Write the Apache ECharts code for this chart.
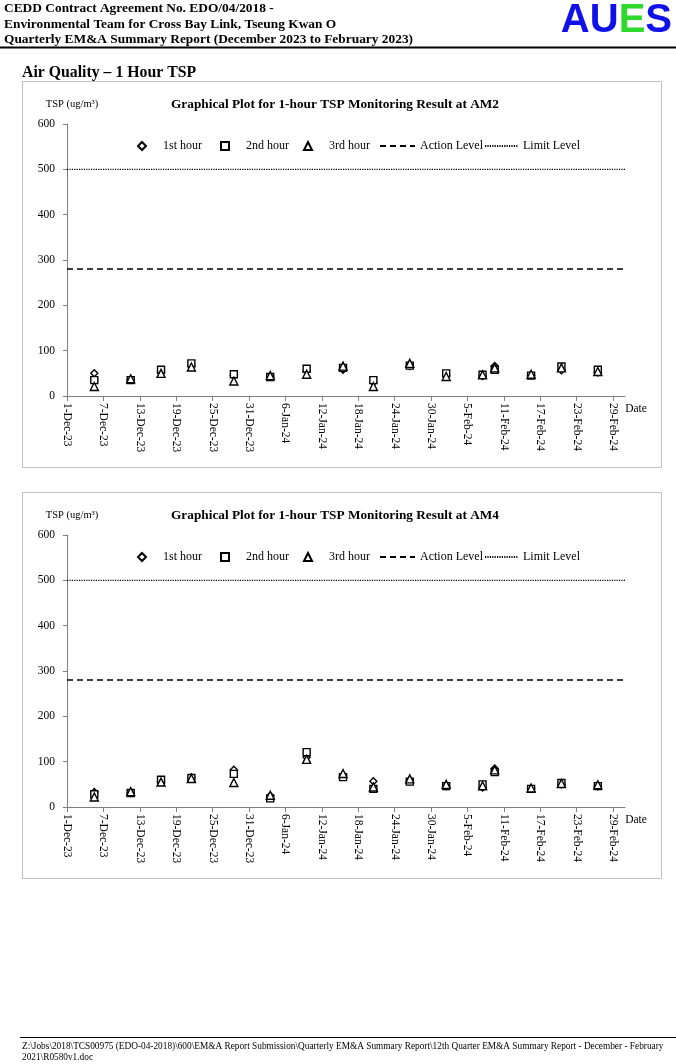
<!DOCTYPE html>
<html><head><meta charset="utf-8">
<script src="https://cdn.jsdelivr.net/npm/echarts@6/dist/echarts.min.js"></script>
<style>html,body{margin:0;padding:0;background:#fff}#c{width:676px;height:1064px}</style>
</head><body><div id="c"></div><script>
// ---------- data ----------
const sampleDates = ['2023-12-05','2023-12-11','2023-12-16','2023-12-21','2023-12-28','2024-01-03','2024-01-09','2024-01-15','2024-01-20','2024-01-26','2024-02-01','2024-02-07','2024-02-09','2024-02-15','2024-02-20','2024-02-26'];
const xTickLabels = ['1-Dec-23','7-Dec-23','13-Dec-23','19-Dec-23','25-Dec-23','31-Dec-23','6-Jan-24','12-Jan-24','18-Jan-24','24-Jan-24','30-Jan-24','5-Feb-24','11-Feb-24','17-Feb-24','23-Feb-24','29-Feb-24'];
const am2Hour1 = [50, 36, 53, 66, 46, 42, 55, 58, 30, 66, 46, 44, 66, 45, 57, 52];
const am2Hour2 = [35, 35, 58, 72, 48, 42, 60, 62, 35, 67, 50, 47, 58, 45, 65, 58];
const am2Hour3 = [21, 38, 50, 64, 33, 45, 48, 66, 21, 72, 43, 47, 62, 48, 62, 54];
const am4Hour1 = [33, 31, 57, 65, 82, 25, 110, 70, 57, 56, 46, 43, 85, 40, 50, 45];
const am4Hour2 = [28, 31, 60, 64, 73, 19, 121, 66, 40, 56, 46, 50, 77, 40, 53, 46];
const am4Hour3 = [22, 34, 55, 63, 54, 26, 105, 74, 44, 62, 50, 47, 82, 42, 52, 49];
const actionLevel = 280;
const limitLevel = 500;
const levelSpan = ['2023-12-01', '2024-03-02'];
const stations = ['AM2', 'AM4'];
const hourNames = ['1st hour', '2nd hour', '3rd hour'];
const levelNames = ['Action Level', 'Limit Level'];

// ---------- helpers ----------
const DAY = 86400000, ORIGIN = Date.UTC(2023, 11, 1);
function dayOf(s) { const [y, m, d] = s.split('-').map(Number); return (Date.UTC(y, m - 1, d) - ORIGIN) / DAY; }
const SERIF = 'Liberation Serif, Times New Roman, serif';
const AXIS_COLOR = '#7f7f7f';
const tickValues = xTickLabels.map((_, k) => k * 6);
const axisEnd = dayOf(levelSpan[1]);

const hourData = [[am2Hour1, am2Hour2, am2Hour3], [am4Hour1, am4Hour2, am4Hour3]];
const symbols = ['diamond', 'rect', 'triangle'];
const symbolSizes = [7, 7, 8];

const option = { animation: false, backgroundColor: '#fff', title: [], legend: [], grid: [], xAxis: [], yAxis: [], series: [], graphic: [] };

const OFFSET = 411;
const PX_PER_DAY = 546 / 90;
stations.forEach((st, i) => {
  const dy = i * OFFSET;
  option.grid.push({ left: 67, top: 124 + dy, width: PX_PER_DAY * axisEnd, height: 272, containLabel: false, outerBoundsMode: 'none' });
  option.title.push({
    text: 'Graphical Plot for 1-hour TSP Monitoring Result at ' + st,
    left: 171, top: 97 + dy, padding: 0,
    textStyle: { fontFamily: SERIF, fontSize: 13.3, fontWeight: 'bold', color: '#000', lineHeight: 16 }
  });
  option.yAxis.push({
    type: 'value', gridIndex: i, min: 0, max: 600, interval: 100,
    splitLine: { show: false },
    axisLine: { show: true, lineStyle: { color: AXIS_COLOR, width: 1 } },
    axisTick: { show: true, length: 4, lineStyle: { color: AXIS_COLOR } },
    axisLabel: { margin: 12, fontFamily: SERIF, fontSize: 11.5, color: '#000' },
    name: 'TSP (ug/m³)', nameLocation: 'end', nameGap: 14,
    nameTextStyle: { fontFamily: SERIF, fontSize: 10.5, color: '#000', padding: [0, 0, 0, 10] }
  });
  option.xAxis.push({
    type: 'value', gridIndex: i, min: 0, max: axisEnd, interval: 6,
    splitLine: { show: false },
    axisLine: { show: true, onZero: false, lineStyle: { color: AXIS_COLOR, width: 1 } },
    axisTick: { show: true, length: 5, customValues: tickValues, lineStyle: { color: AXIS_COLOR } },
    axisLabel: { rotate: -90, margin: 7, fontFamily: SERIF, fontSize: 11.5, color: '#000', customValues: tickValues,
      formatter: v => (v % 6 === 0 ? (xTickLabels[v / 6] || '') : '') },
    name: 'Date', nameLocation: 'end', nameGap: 0,
    nameTextStyle: { fontFamily: SERIF, fontSize: 11.5, color: '#000', align: 'left', verticalAlign: 'top', padding: [7, 0, 0, 0] }
  });
  hourData[i].forEach((vals, k) => {
    option.series.push({
      type: 'scatter', name: hourNames[k], xAxisIndex: i, yAxisIndex: i,
      symbol: symbols[k], symbolSize: symbolSizes[k],
      itemStyle: { color: '#fff', borderColor: '#000', borderWidth: 1.4, opacity: 1 },
      data: sampleDates.map((d, j) => [dayOf(d) + 0.5, vals[j]]),
      z: 3 + k
    });
  });
  [[actionLevel, [6, 4], 1.5], [limitLevel, [1.2, 1.2], 1.2]].forEach(([lv, dash, w], k) => {
    option.series.push({
      type: 'line', name: levelNames[k], xAxisIndex: i, yAxisIndex: i,
      symbol: 'none', showSymbol: false, clip: false, silent: true,
      lineStyle: { color: '#000', type: dash, width: w },
      itemStyle: { color: '#000' },
      data: levelSpan.map(d => [dayOf(d), lv]), z: 2
    });
  });
  // legends, one per item
  const legTop = 139 + dy;
  const lt = { fontFamily: SERIF, fontSize: 12, color: '#000', lineHeight: 14 };
  [137, 220, 303].forEach((lx, k) => {
    option.legend.push({ data: [hourNames[k]], left: lx, top: legTop, padding: 0, itemWidth: 8, itemHeight: 8,
      selectedMode: false, textStyle: Object.assign({ padding: [0, 0, 0, 12] }, lt) });
  });
  const noSym = { color: 'rgba(0,0,0,0)', borderColor: 'rgba(0,0,0,0)', borderWidth: 0 };
  option.legend.push({ data: [levelNames[0]], left: 379, top: legTop, padding: 0, itemWidth: 35, itemHeight: 8,
    selectedMode: false, itemStyle: noSym, textStyle: lt });
  option.legend.push({ data: [levelNames[1]], left: 484, top: legTop, padding: 0, itemWidth: 33, itemHeight: 8,
    selectedMode: false, itemStyle: noSym, textStyle: lt });
  // box
  option.graphic.push({ type: 'rect', shape: { x: 22.5, y: 81.5 + dy, width: 639, height: 386 },
    style: { fill: 'none', stroke: '#bfbfbf', lineWidth: 1 }, z: -1 });
});

const hdr = { fontFamily: SERIF, fontSize: 13.4, fontWeight: 'bold', fill: '#000', verticalAlign: 'middle' };
option.graphic.push(
  { type: 'text', x: 4, y: 9, style: Object.assign({ text: 'CEDD Contract Agreement No. EDO/04/2018 -' }, hdr) },
  { type: 'text', x: 4, y: 25, style: Object.assign({ text: 'Environmental Team for Cross Bay Link, Tseung Kwan O' }, hdr) },
  { type: 'text', x: 4, y: 40, style: Object.assign({ text: 'Quarterly EM&A Summary Report (December 2023 to February 2023)' }, hdr) },
  { type: 'line', shape: { x1: 0, y1: 47.5, x2: 676, y2: 47.5 }, style: { stroke: '#000', lineWidth: 2 } },
  { type: 'text', x: 672, y: 21, style: {
      text: '{a|AU}{b|E}{a|S}', align: 'right', verticalAlign: 'middle',
      rich: {
        a: { fontFamily: 'Liberation Sans, Arial, sans-serif', fontSize: 40, fontWeight: 'bold', fill: '#1010e8', color: '#1010e8' },
        b: { fontFamily: 'Liberation Sans, Arial, sans-serif', fontSize: 40, fontWeight: 'bold', fill: '#2ed82e', color: '#2ed82e' }
      } } },
  { type: 'text', x: 22, y: 73, style: { text: 'Air Quality – 1 Hour TSP', fontFamily: SERIF, fontSize: 15.8, fontWeight: 'bold', fill: '#000', verticalAlign: 'middle' } },
  { type: 'line', shape: { x1: 20, y1: 1037.5, x2: 676, y2: 1037.5 }, style: { stroke: '#000', lineWidth: 1 } },
  { type: 'text', x: 22, y: 1047, style: { text: 'Z:\\Jobs\\2018\\TCS00975 (EDO-04-2018)\\600\\EM&A Report Submission\\Quarterly EM&A Summary Report\\12th Quarter EM&A Summary Report - December - February', fontFamily: SERIF, fontSize: 9.3, fill: '#000', verticalAlign: 'middle' } },
  { type: 'text', x: 22, y: 1058, style: { text: '2021\\R0580v1.doc', fontFamily: SERIF, fontSize: 9.3, fill: '#000', verticalAlign: 'middle' } }
);

const chart = echarts.init(document.getElementById('c'), null, { renderer: 'canvas' });
chart.setOption(option);
</script></body></html>
